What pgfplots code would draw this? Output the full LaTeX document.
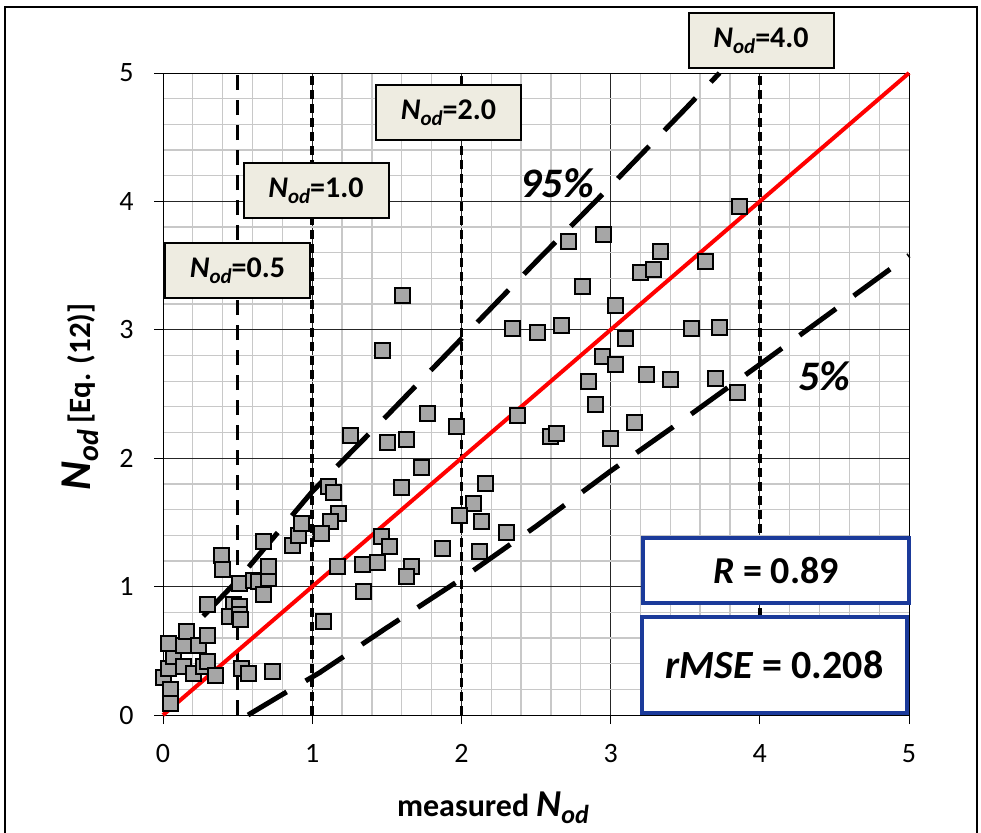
\documentclass[border=0pt]{standalone}
\usepackage{pgfplots}
\pgfplotsset{compat=1.18}
\usepackage{fontspec}
\setmainfont{Carlito}
\definecolor{ptgray}{HTML}{A6A6A6}
\definecolor{boxfill}{HTML}{EEECE1}
\definecolor{boxblue}{HTML}{1B3A9A}
\definecolor{mingrid}{HTML}{C8C8C8}
\newcommand{\Nod}[3]{{\fontsize{#1}{#1}\selectfont\bfseries\itshape N\raisebox{-#3pt}{\fontsize{#2}{#2}\selectfont od}}}
\pgfplotstableread{
x y
0.000 0.29
0.047 0.20
0.047 0.09
0.036 0.36
0.069 0.455
0.036 0.56
0.136 0.545
0.158 0.65
0.237 0.545
0.30 0.62
0.136 0.376
0.203 0.32
0.27 0.376
0.30 0.415
0.349 0.31
0.527 0.363
0.572 0.32
0.735 0.337
0.30 0.857
0.47 0.857
0.516 0.843
0.449 0.765
0.516 0.78
0.52 0.74
0.516 1.025
0.605 1.05
0.64 1.04
0.672 0.935
0.706 1.06
0.706 1.155
0.672 1.35
0.393 1.24
0.40 1.13
0.867 1.32
0.907 1.40
0.93 1.49
1.075 0.727
1.604 3.27
1.47 2.84
1.258 2.175
1.503 2.12
1.633 2.145
1.774 2.35
1.968 2.25
1.734 1.93
1.60 1.77
1.108 1.78
1.141 1.73
1.175 1.57
1.12 1.505
1.064 1.415
2.163 1.80
2.08 1.65
1.99 1.55
2.136 1.505
2.30 1.42
2.12 1.27
1.87 1.30
1.466 1.39
1.52 1.31
1.17 1.155
1.336 1.17
1.437 1.19
1.667 1.155
1.633 1.08
1.347 0.96
2.375 2.33
2.34 3.01
2.51 2.98
2.67 3.03
2.594 2.17
2.64 2.19
3.867 3.96
2.95 3.74
2.72 3.69
3.336 3.61
3.197 3.45
3.29 3.47
3.637 3.535
2.81 3.34
3.03 3.19
3.10 2.93
3.544 3.01
3.733 3.02
2.945 2.79
3.03 2.73
3.242 2.655
3.40 2.61
3.704 2.62
3.85 2.51
2.85 2.60
2.90 2.42
3.157 2.28
3.00 2.155
}\pts
\begin{document}
\begin{tikzpicture}[x=1pt,y=1pt]
\useasboundingbox (0pt,0pt) rectangle (981pt,-832pt);
\draw[line width=1.5pt] (5pt,-840pt) -- (5pt,-7pt) -- (977pt,-7pt) -- (977pt,-840pt);
\begin{axis}[
  at={(163pt,-715pt)}, anchor=south west,
  scale only axis, width=746pt, height=642pt,
  xmin=0, xmax=5, ymin=0, ymax=5,
  xtick={0,1,2,3,4,5}, ytick={0,1,2,3,4,5},
  minor tick num=4,
  grid=both,
  minor grid style={mingrid, line width=1.3pt},
  major grid style={black!85, line width=1pt},
  tick align=outside,
  tick pos=left,
  major tick length=9pt,
  minor tick length=0pt,
  axis line style={black, line width=1pt},
  tick style={black, line width=1pt},
  ticklabel style={font=\fontsize{28}{30}\selectfont},
  /pgf/number format/assume math mode=true,
  xticklabel style={yshift=-17pt},
  yticklabel style={xshift=-17pt},
  clip=false,
]
% vertical reference lines
\addplot[black, line width=3.5pt, dash pattern=on 15pt off 10pt] coordinates {(0.5,0) (0.5,5)};
\addplot[black, line width=3.5pt, dash pattern=on 9pt off 5pt] coordinates {(1,0) (1,5)};
\addplot[black, line width=3.5pt, dash pattern=on 9pt off 5pt] coordinates {(2,0) (2,5)};
\addplot[black, line width=3.5pt, dash pattern=on 9pt off 5pt] coordinates {(4,0) (4,5)};
% 95% and 5% bounds
\addplot[black, line width=5pt, dash pattern=on 45pt off 22pt] coordinates {(0.27,0.77) (0.5,1.05) (1.0,1.74) (1.5,2.33) (2.0,2.93) (2.5,3.53) (3.0,4.12) (3.5,4.72) (3.73,5.0)};
\addplot[black, line width=5pt, dash pattern=on 45pt off 22pt] coordinates {(0.57,0) (0.8,0.16) (1.05,0.33) (1.5,0.68) (2,1.06) (2.5,1.47) (3,1.9) (3.5,2.31) (4,2.73) (5,3.58)};
% data
\addplot[only marks, mark=square*, mark size=7.5pt, mark options={fill=ptgray, draw=black, line width=2pt}] table[x=x, y=y] {\pts};
% 1:1 line
\addplot[red, line width=4pt] coordinates {(0,0) (5,5)};
\end{axis}
% annotation boxes
\tikzset{lbl/.style={draw=black, line width=2pt, fill=boxfill, inner sep=0pt, minimum width=145pt, minimum height=55pt}}
\node[lbl] at (237.5pt,-270.5pt) {\Nod{30}{21}{6}\fontsize{30}{30}\selectfont\bfseries =0.5};
\node[lbl] at (316pt,-190.5pt) {\Nod{30}{21}{6}\fontsize{30}{30}\selectfont\bfseries =1.0};
\node[lbl] at (448.5pt,-112.5pt) {\Nod{30}{21}{6}\fontsize{30}{30}\selectfont\bfseries =2.0};
\node[lbl] at (761pt,-41pt) {\Nod{30}{21}{6}\fontsize{30}{30}\selectfont\bfseries =4.0};
\node at (557pt,-183pt) {\fontsize{42}{42}\selectfont\bfseries\itshape 95\%};
\node at (824pt,-376pt) {\fontsize{42}{42}\selectfont\bfseries\itshape 5\%};
\node[draw=boxblue, line width=3.5pt, fill=white, minimum width=266pt, minimum height=65pt, inner sep=0pt] at (776pt,-570.5pt) {\fontsize{38}{38}\selectfont\bfseries\textit{R} = 0.89};
\node[draw=boxblue, line width=3.5pt, fill=white, minimum width=265pt, minimum height=96pt, inner sep=0pt] at (774.5pt,-665pt) {\fontsize{40}{40}\selectfont\bfseries\textit{rMSE} = 0.208};
% axis titles
\node at (493pt,-808pt) {\fontsize{32}{32}\selectfont\bfseries measured \Nod{38}{26}{7}};
\node[rotate=90] at (80pt,-397pt) {\Nod{44}{30}{8}\fontsize{31}{31}\selectfont\bfseries\ [Eq. (12)]};
\end{tikzpicture}
\end{document}
